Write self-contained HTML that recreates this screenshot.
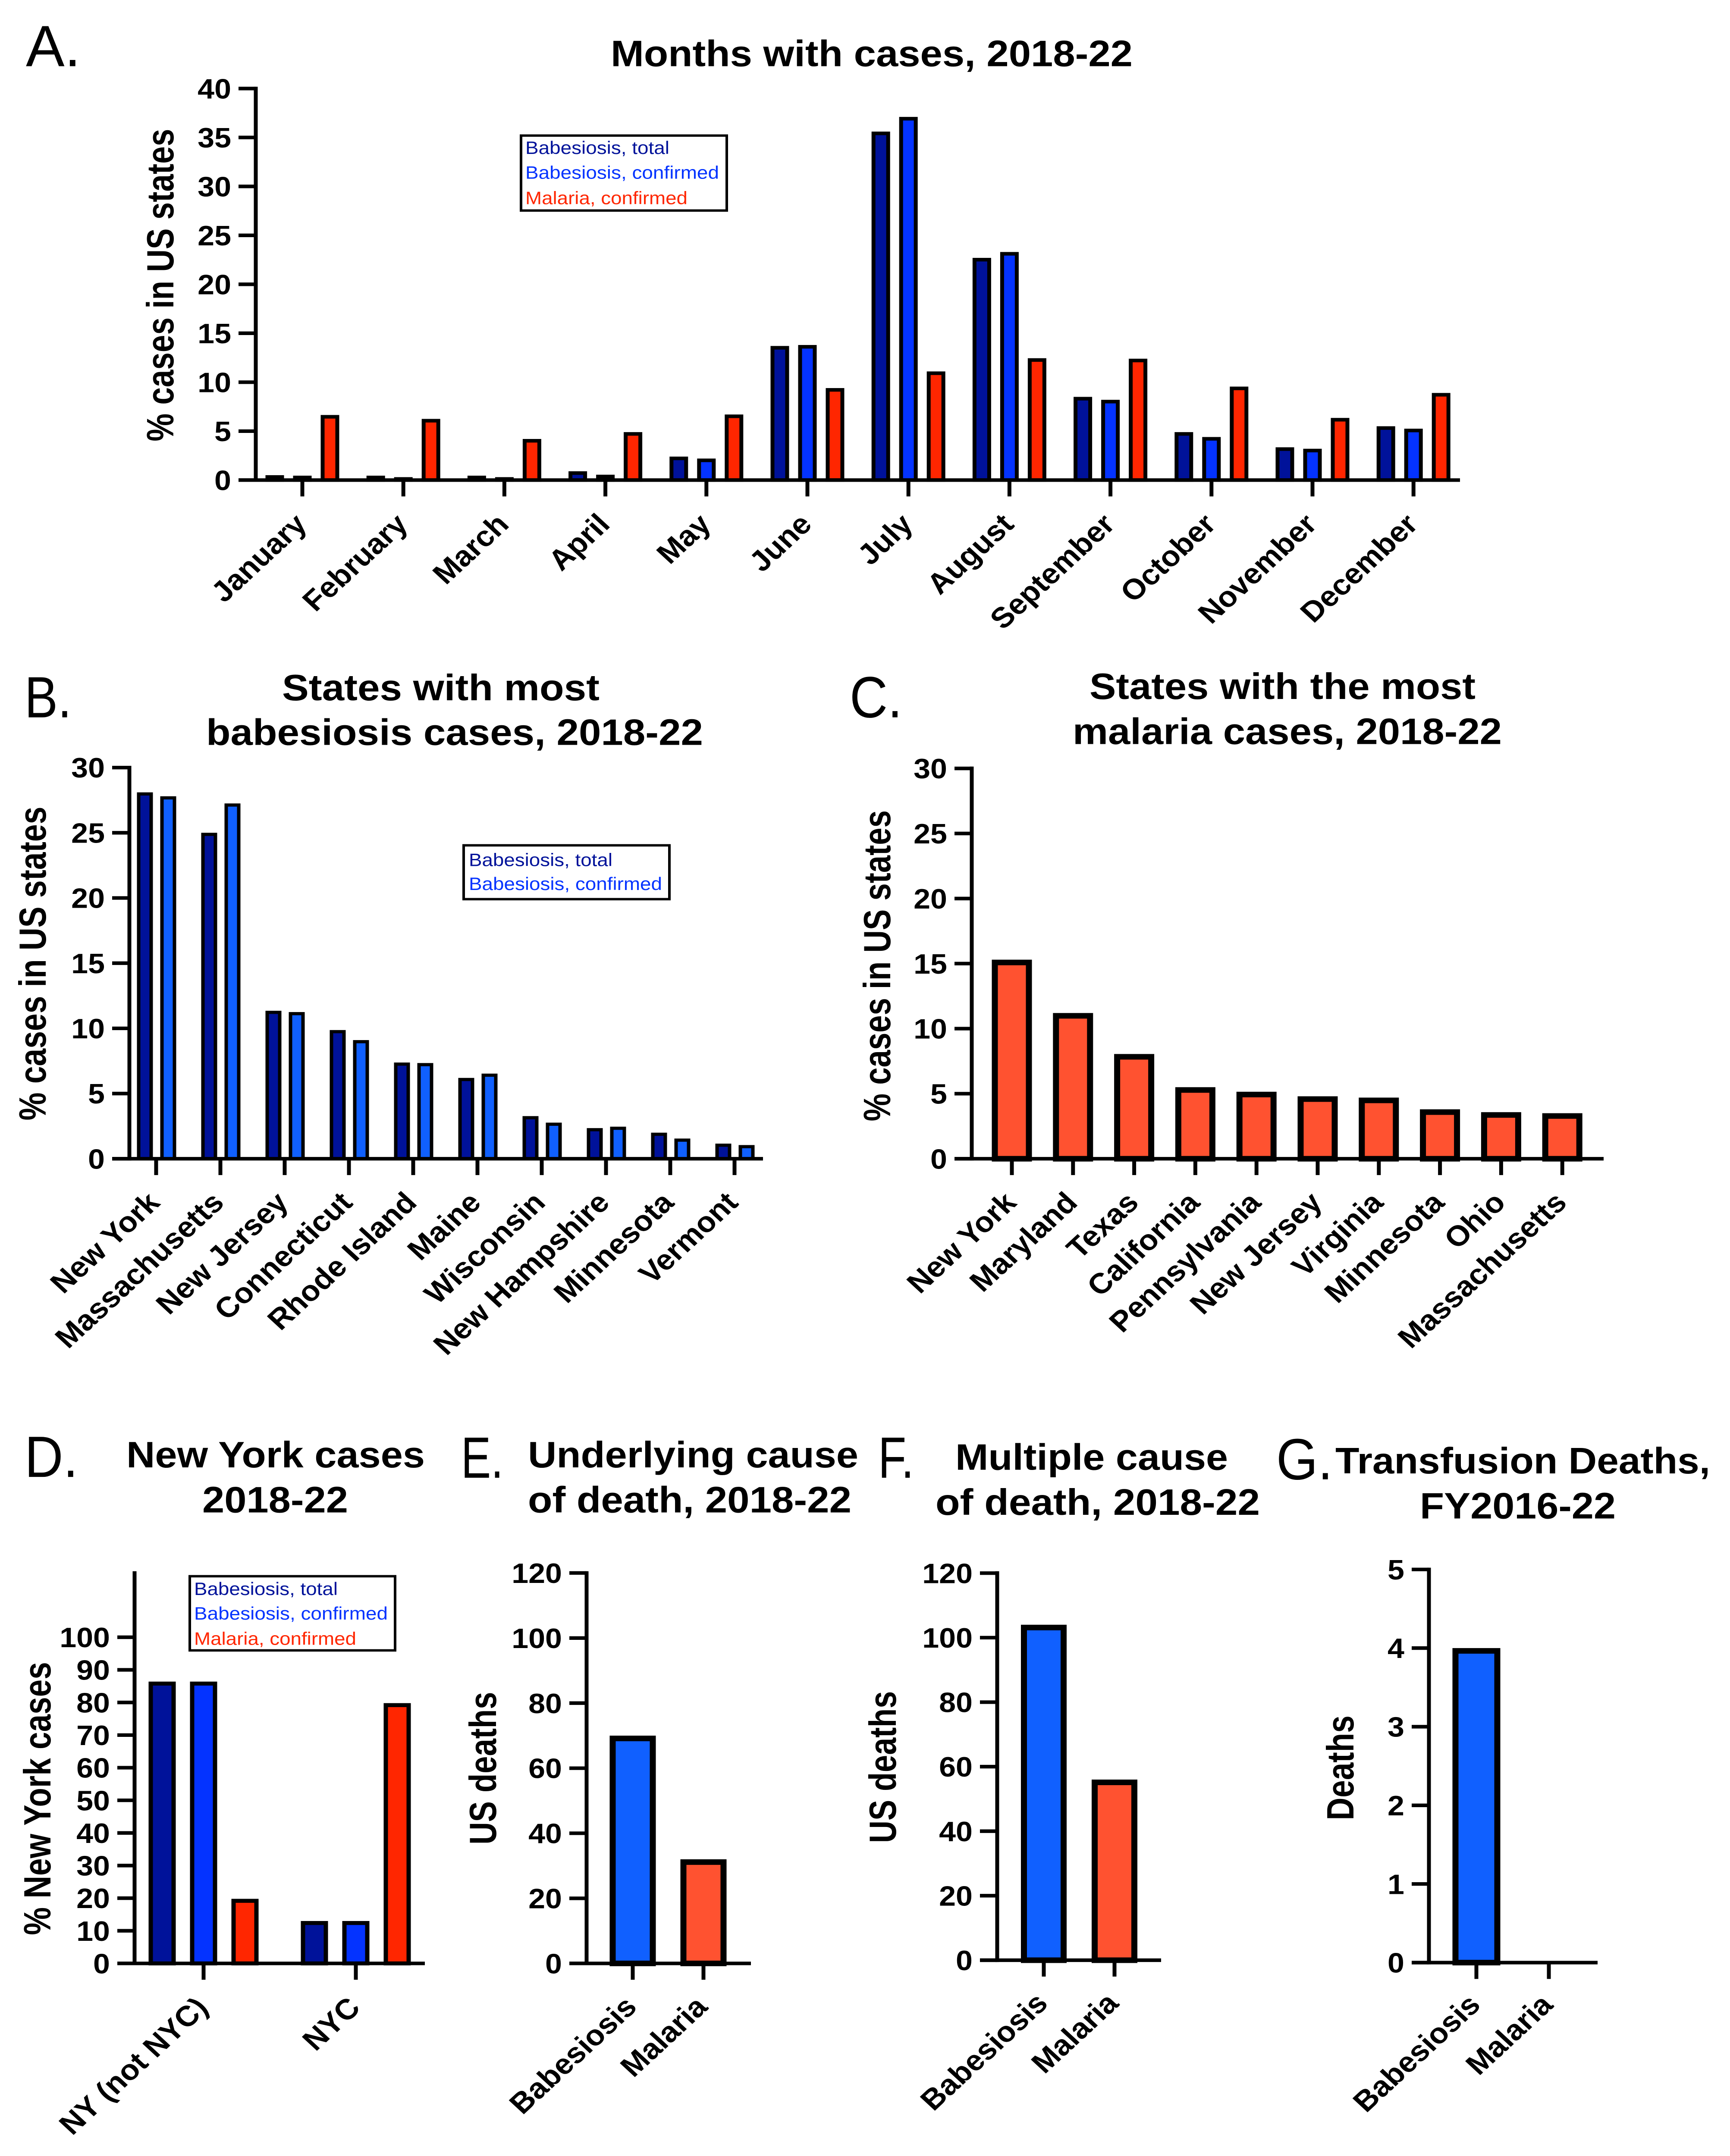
<!DOCTYPE html>
<html lang="en">
<head>
<meta charset="utf-8">
<title>Babesiosis and malaria case and death charts</title>
<style>
html,body{margin:0;padding:0;background:#fff;width:100%;height:100%}
svg{display:block;position:fixed;left:0;top:0;width:100vw;height:100vh}
text{font-family:"Liberation Sans",sans-serif}
.t{font-weight:700;font-size:92px;fill:#000}
.p{font-weight:400;font-size:146px;fill:#000}
.l{font-weight:400;font-size:45px}
.y{font-weight:700;font-size:88px;fill:#000}
</style>
</head>
<body>
<svg id="fig" xmlns="http://www.w3.org/2000/svg" viewBox="0 0 4011 5407" preserveAspectRatio="none">
<rect x="0" y="0" width="4011" height="5407" fill="#fff"/>

<text class="p" x="60" y="166" textLength="127" lengthAdjust="spacingAndGlyphs">A.</text>
<text class="t" x="1416" y="166" textLength="1210" lengthAdjust="spacingAndGlyphs">Months with cases, 2018-22</text>
<text class="y" transform="translate(402 1107) rotate(-90)" textLength="784" lengthAdjust="spacingAndGlyphs">% cases in US states</text>

<g>
<rect x="1208" y="340" width="477" height="188" fill="#fff" stroke="#000" stroke-width="6"/>
<text class="l" x="1218" y="386" fill="#00129a" textLength="334" lengthAdjust="spacingAndGlyphs">Babesiosis, total</text>
<text class="l" x="1218" y="448" fill="#0433ff" textLength="449" lengthAdjust="spacingAndGlyphs">Babesiosis, confirmed</text>
<text class="l" x="1218" y="512" fill="#ff2600" textLength="376" lengthAdjust="spacingAndGlyphs">Malaria, confirmed</text>
</g>

<text class="p" x="57" y="1799" textLength="109" lengthAdjust="spacingAndGlyphs">B.</text>
<text class="t" x="654" y="1756" textLength="736" lengthAdjust="spacingAndGlyphs">States with most</text>
<text class="t" x="478" y="1868" textLength="1152" lengthAdjust="spacingAndGlyphs">babesiosis cases, 2018-22</text>
<text class="y" transform="translate(106 2810) rotate(-90)" textLength="787" lengthAdjust="spacingAndGlyphs">% cases in US states</text>

<g>
<rect x="1075" y="2120" width="477" height="135" fill="#fff" stroke="#000" stroke-width="6"/>
<text class="l" x="1087" y="2172" fill="#00129a" textLength="333" lengthAdjust="spacingAndGlyphs">Babesiosis, total</text>
<text class="l" x="1087" y="2232" fill="#0433ff" textLength="448" lengthAdjust="spacingAndGlyphs">Babesiosis, confirmed</text>
</g>

<text class="p" x="1970" y="1799" textLength="122" lengthAdjust="spacingAndGlyphs">C.</text>
<text class="t" x="2526" y="1753" textLength="895" lengthAdjust="spacingAndGlyphs">States with the most</text>
<text class="t" x="2487" y="1866" textLength="995" lengthAdjust="spacingAndGlyphs">malaria cases, 2018-22</text>
<text class="y" transform="translate(2064 2812) rotate(-90)" textLength="780" lengthAdjust="spacingAndGlyphs">% cases in US states</text>

<text class="p" x="57" y="3704" textLength="124" lengthAdjust="spacingAndGlyphs">D.</text>
<text class="t" x="293" y="3680" textLength="692" lengthAdjust="spacingAndGlyphs">New York cases</text>
<text class="t" x="469" y="3793" textLength="338" lengthAdjust="spacingAndGlyphs">2018-22</text>
<text class="y" transform="translate(117 4853) rotate(-90)" textLength="685" lengthAdjust="spacingAndGlyphs">% New York cases</text>

<g>
<rect x="440" y="3953" width="476" height="186" fill="#fff" stroke="#000" stroke-width="6"/>
<text class="l" x="450" y="4000" fill="#00129a" textLength="333" lengthAdjust="spacingAndGlyphs">Babesiosis, total</text>
<text class="l" x="450" y="4062" fill="#0433ff" textLength="449" lengthAdjust="spacingAndGlyphs">Babesiosis, confirmed</text>
<text class="l" x="450" y="4125" fill="#ff2600" textLength="376" lengthAdjust="spacingAndGlyphs">Malaria, confirmed</text>
</g>

<text class="p" x="1069" y="3706" textLength="98" lengthAdjust="spacingAndGlyphs">E.</text>
<text class="t" x="1224" y="3680" textLength="766" lengthAdjust="spacingAndGlyphs">Underlying cause</text>
<text class="t" x="1224" y="3793" textLength="750" lengthAdjust="spacingAndGlyphs">of death, 2018-22</text>
<text class="y" transform="translate(1150 4626) rotate(-90)" textLength="383" lengthAdjust="spacingAndGlyphs">US deaths</text>

<text class="p" x="2036" y="3706" textLength="83" lengthAdjust="spacingAndGlyphs">F.</text>
<text class="t" x="2215" y="3686" textLength="632" lengthAdjust="spacingAndGlyphs">Multiple cause</text>
<text class="t" x="2169" y="3799" textLength="752" lengthAdjust="spacingAndGlyphs">of death, 2018-22</text>
<text class="y" transform="translate(2077 4622) rotate(-90)" textLength="381" lengthAdjust="spacingAndGlyphs">US deaths</text>

<text class="p" x="2959" y="3710" textLength="131" lengthAdjust="spacingAndGlyphs">G.</text>
<text class="t" x="3096" y="3695" textLength="869" lengthAdjust="spacingAndGlyphs">Transfusion Deaths,</text>
<text class="t" x="3292" y="3808" textLength="454" lengthAdjust="spacingAndGlyphs">FY2016-22</text>
<text class="y" transform="translate(3138 4565) rotate(-90)" textLength="263" lengthAdjust="spacingAndGlyphs">Deaths</text>

<g id="charts"></g>
</svg>

<script>
// ---- Panel A data ----
var monthCategories = ["January","February","March","April","May","June","July","August","September","October","November","December"];
var monthBabesiosisTotal = [0.5,0.45,0.45,0.9,2.4,13.7,35.6,22.7,8.5,4.9,3.35,5.5];
var monthBabesiosisConfirmed = [0.45,0.3,0.3,0.55,2.2,13.8,37.1,23.3,8.2,4.4,3.2,5.25];
var monthMalariaConfirmed = [6.65,6.25,4.2,4.9,6.7,9.4,11.1,12.45,12.4,9.55,6.35,8.9];
var monthTickLabels = [0,5,10,15,20,25,30,35,40];

// ---- Panel B data ----
var babesiosisStates = ["New York","Massachusetts","New Jersey","Connecticut","Rhode Island","Maine","Wisconsin","New Hampshire","Minnesota","Vermont"];
var stateBabesiosisTotal = [28.1,25.0,11.35,9.87,7.38,6.2,3.27,2.35,2.0,1.16];
var stateBabesiosisConfirmed = [27.8,27.25,11.25,9.1,7.34,6.53,2.77,2.46,1.55,1.05];
var stateTickLabels = [0,5,10,15,20,25,30];

// ---- Panel C data ----
var malariaStates = ["New York","Maryland","Texas","California","Pennsylvania","New Jersey","Virginia","Minnesota","Ohio","Massachusetts"];
var stateMalaria = [15.3,11.2,8.05,5.5,5.15,4.8,4.7,3.8,3.58,3.5];

// ---- Panel D data ----
var nyCategories = ["NY (not NYC)","NYC"];
var nyBabesiosisTotal = [86.4,13];
var nyBabesiosisConfirmed = [86.4,13];
var nyMalariaConfirmed = [19.8,79.8];
var nyTickLabels = [0,10,20,30,40,50,60,70,80,90,100];

// ---- Panels E, F, G data ----
var diseaseCategories = ["Babesiosis","Malaria"];
var underlyingDeaths = [70,32];
var multipleDeaths = [104,56];
var transfusionDeaths = [4,0];
var deathTickLabels = [0,20,40,60,80,100,120];
var transfusionTickLabels = [0,1,2,3,4,5];

var NS = "http://www.w3.org/2000/svg";
var root = document.getElementById("charts");

function mk(parent, tag, attrs) {
  var el = document.createElementNS(NS, tag);
  for (var k in attrs) { el.setAttribute(k, attrs[k]); }
  parent.appendChild(el);
  return el;
}

function slug(s) {
  return String(s).toLowerCase().replace(/[^a-z0-9]+/g, "-").replace(/^-|-$/g, "");
}

function drawChart(o) {
  var g = mk(root, "g", {});
  
  

  function yPos(v) { return o.y0 - v * o.pxPerUnit; }
  function xPos(i) { return o.x0 + i * o.step; }

  // bars
  o.series.forEach(function (s) {
    s.values.forEach(function (v, i) {
      if (v <= 0) { return; }
      var cx = xPos(i) + s.offset;
      var top = yPos(v);
      var b = mk(g, "rect", {
        x: cx - o.barW / 2 + o.border / 2,
        y: top + o.border / 2,
        width: o.barW - o.border,
        height: o.y0 - top - o.border / 2,
        fill: s.color,
        stroke: "#000",
        "stroke-width": o.border
      });
      
      
    });
  });

  // y axis line
  var ya = mk(g, "line", { x1: o.axisX, x2: o.axisX, y1: o.axisTop - 4.5, y2: o.y0 + 4.5, stroke: "#000", "stroke-width": 9 });
  
  

  // x axis line
  var xa = mk(g, "line", { x1: o.axisX - 40, x2: o.axisEnd, y1: o.y0, y2: o.y0, stroke: "#000", "stroke-width": 9 });
  
  

  // y ticks and labels
  o.yTicks.forEach(function (t) {
    var y = yPos(t);
    var tk = mk(g, "line", { x1: o.axisX - 40, x2: o.axisX, y1: y, y2: y, stroke: "#000", "stroke-width": 9 });
    
    
    var lb = mk(g, "text", { x: o.axisX - 57, y: y + 25, "text-anchor": "end", "font-size": 70, "font-weight": 700, fill: "#000" });
    lb.textContent = String(t);
    
    
  });

  // x ticks and labels
  o.categories.forEach(function (c, i) {
    var x = xPos(i);
    var tk = mk(g, "line", { x1: x, x2: x, y1: o.y0, y2: o.y0 + 41, stroke: "#000", "stroke-width": 9 });
    
    
    var ax = x + o.labelDx;
    var ay = o.y0 + 41 + o.labelDy;
    var lb = mk(g, "text", { x: ax, y: ay, "text-anchor": "end", "font-size": 72, "font-weight": 700, fill: "#000", transform: "rotate(-45 " + ax + " " + ay + ")" });
    lb.textContent = c;
    
    
  });
}

drawChart({
  id: "a", categories: monthCategories, yTicks: monthTickLabels,
  axisX: 593, axisTop: 222, axisEnd: 3385, y0: 1204, pxPerUnit: 24.55,
  x0: 701, step: 234.2, barW: 43, border: 9, labelDx: 14, labelDy: 74,
  series: [
    { key: "babesiosis-total", values: monthBabesiosisTotal, color: "#00129a", offset: -64 },
    { key: "babesiosis-confirmed", values: monthBabesiosisConfirmed, color: "#0433ff", offset: 0 },
    { key: "malaria-confirmed", values: monthMalariaConfirmed, color: "#ff2600", offset: 64 }
  ]
});

drawChart({
  id: "b", categories: babesiosisStates, yTicks: stateTickLabels,
  axisX: 300, axisTop: 1925, axisEnd: 1769, y0: 2906, pxPerUnit: 32.7,
  x0: 362, step: 149, barW: 37, border: 8, labelDx: 12, labelDy: 73,
  series: [
    { key: "babesiosis-total", values: stateBabesiosisTotal, color: "#00129a", offset: -26 },
    { key: "babesiosis-confirmed", values: stateBabesiosisConfirmed, color: "#1060ff", offset: 28 }
  ]
});

drawChart({
  id: "c", categories: malariaStates, yTicks: stateTickLabels,
  axisX: 2253, axisTop: 1927, axisEnd: 3718, y0: 2906, pxPerUnit: 32.63,
  x0: 2346, step: 141.8, barW: 93, border: 14, labelDx: 14, labelDy: 73,
  series: [
    { key: "malaria", values: stateMalaria, color: "#ff5230", offset: 0 }
  ]
});

drawChart({
  id: "d", categories: nyCategories, yTicks: nyTickLabels,
  axisX: 312, axisTop: 3945, axisEnd: 985, y0: 4924, pxPerUnit: 8.18,
  x0: 472, step: 353, barW: 63, border: 10, labelDx: 14, labelDy: 74,
  series: [
    { key: "babesiosis-total", values: nyBabesiosisTotal, color: "#00129a", offset: -96 },
    { key: "babesiosis-confirmed", values: nyBabesiosisConfirmed, color: "#0433ff", offset: 0 },
    { key: "malaria-confirmed", values: nyMalariaConfirmed, color: "#ff2600", offset: 96 }
  ]
});

var deathColors = ["#1060ff", "#ff5230"];

drawChart({
  id: "e", categories: diseaseCategories, yTicks: deathTickLabels,
  axisX: 1360, axisTop: 3945, axisEnd: 1741, y0: 4924, pxPerUnit: 8.16,
  x0: 1467, step: 164, barW: 107, border: 14, labelDx: 13, labelDy: 72,
  series: [
    { key: "babesiosis", values: [underlyingDeaths[0], 0], color: deathColors[0], offset: 0 },
    { key: "malaria", values: [0, underlyingDeaths[1]], color: deathColors[1], offset: 0 }
  ]
});

drawChart({
  id: "f", categories: diseaseCategories, yTicks: deathTickLabels,
  axisX: 2312, axisTop: 3945, axisEnd: 2692, y0: 4916, pxPerUnit: 8.09,
  x0: 2420, step: 164, barW: 106, border: 14, labelDx: 13, labelDy: 71,
  series: [
    { key: "babesiosis", values: [multipleDeaths[0], 0], color: deathColors[0], offset: 0 },
    { key: "malaria", values: [0, multipleDeaths[1]], color: deathColors[1], offset: 0 }
  ]
});

drawChart({
  id: "g", categories: diseaseCategories, yTicks: transfusionTickLabels,
  axisX: 3313, axisTop: 3936, axisEnd: 3704, y0: 4922, pxPerUnit: 197.2,
  x0: 3423, step: 168, barW: 111, border: 14, labelDx: 13, labelDy: 69,
  series: [
    { key: "babesiosis", values: [transfusionDeaths[0], 0], color: deathColors[0], offset: 0 },
    { key: "malaria", values: [0, transfusionDeaths[1]], color: deathColors[1], offset: 0 }
  ]
});
</script>
</body>
</html>
